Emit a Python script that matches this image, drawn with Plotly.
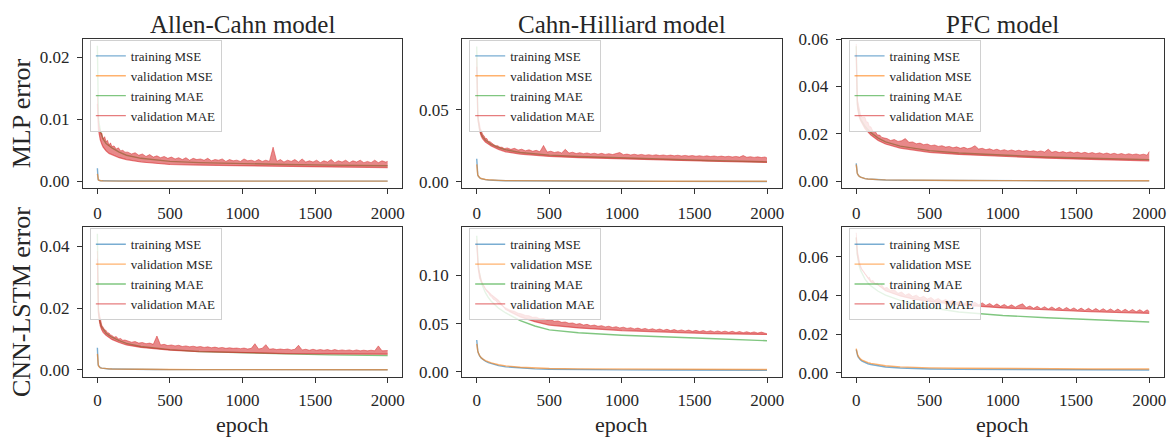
import plotly.graph_objects as go

# ---------------- data ----------------
EPOCHS_SMOOTH = [0, 1, 2, 3, 5, 7, 10, 15, 20, 30, 40, 60, 80, 100, 150, 200,
                 300, 400, 500, 700, 1000, 1300, 1600, 1999]
EPOCHS_NOISY = ([0, 1, 2, 3, 5, 7, 10, 15, 20, 25, 30, 40, 50, 60, 70, 80, 90,
                 100, 115, 130, 145, 160, 175, 190]
                + list(range(210, 1986, 25)) + [1999])

MODELS = ["Allen-Cahn model", "Cahn-Hilliard model", "PFC model"]
ROW_LABELS = ["MLP error", "CNN-LSTM error"]
SERIES_NAMES = ["training MSE", "validation MSE", "training MAE", "validation MAE"]
X_TICKS = [0, 500, 1000, 1500, 2000]

# Validation MAE is noisy: *_VAL_MAE_HIGH is its jagged upper edge (EPOCHS_NOISY),
# *_VAL_MAE_LOW its lower edge (EPOCHS_SMOOTH).

# Allen-Cahn, MLP
AC_MLP_TRAIN_MSE = [0.0021, 0.0009, 0.0006, 0.00045, 0.0003, 0.00022, 0.00016, 0.00011, 0.00008, 0.00006,
                    0.00005, 0.00004, 0.00003, 0.00003, 0.00002, 0.00002, 0.000015, 0.000012, 0.00001, 0.00001,
                    0.00001, 0.00001, 0.00001, 0.00001]
AC_MLP_VAL_MSE = [0.0012, 0.0007, 0.0005, 0.0004, 0.00028, 0.0002, 0.00015, 0.0001, 0.00008, 0.00006,
                  0.00005, 0.00004, 0.00003, 0.00003, 0.00002, 0.00002, 0.000015, 0.000013, 0.000012, 0.000011,
                  0.00001, 0.00001, 0.00001, 0.00001]
AC_MLP_TRAIN_MAE = [0.0219, 0.017, 0.0145, 0.013, 0.0115, 0.0105, 0.0097, 0.0088, 0.0082, 0.0074,
                    0.0068, 0.0061, 0.0057, 0.0054, 0.0047, 0.0042, 0.0037, 0.0034, 0.0032, 0.0030,
                    0.0028, 0.0027, 0.0026, 0.0025]
AC_MLP_VAL_MAE_LOW = [0.0125, 0.011, 0.0102, 0.0096, 0.009, 0.0084, 0.008, 0.0072, 0.0067, 0.006,
                      0.0055, 0.0049, 0.0045, 0.0043, 0.0038, 0.0035, 0.0031, 0.0029, 0.0027, 0.0026,
                      0.0025, 0.0023, 0.0023, 0.0022]
AC_MLP_VAL_MAE_HIGH = [0.0140, 0.0125, 0.0115, 0.0108, 0.0100, 0.0095, 0.0090, 0.0084, 0.0080, 0.0076,
                       0.0078, 0.0068, 0.0072, 0.0064, 0.0066, 0.0058, 0.0062, 0.0056, 0.0057, 0.0052,
                       0.0054, 0.0049, 0.0050, 0.0047,
                       0.0047, 0.0044, 0.0046, 0.0042, 0.0044, 0.0040, 0.0043, 0.0039, 0.0041, 0.0038,
                       0.0040, 0.0037, 0.0039, 0.0036, 0.0038, 0.0035, 0.0038, 0.0034, 0.0037, 0.0035,
                       0.0036, 0.0034, 0.0037, 0.0033, 0.0035, 0.0034, 0.0036, 0.0032, 0.0035, 0.0033,
                       0.0034, 0.0032, 0.0036, 0.0033, 0.0034, 0.0032, 0.0035, 0.0032, 0.0034, 0.0032,
                       0.0055, 0.0032, 0.0035, 0.0031, 0.0034, 0.0032, 0.0035, 0.0031, 0.0036, 0.0031,
                       0.0033, 0.0031, 0.0034, 0.0030, 0.0033, 0.0031, 0.0035, 0.0030, 0.0033, 0.0031,
                       0.0034, 0.0030, 0.0033, 0.0031, 0.0034, 0.0030, 0.0032, 0.0030, 0.0034, 0.0030,
                       0.0033, 0.0031, 0.0032]

# Cahn-Hilliard, MLP
CH_MLP_TRAIN_MSE = [0.016, 0.011, 0.0085, 0.007, 0.0055, 0.0047, 0.004, 0.0032, 0.0027, 0.0021,
                    0.0018, 0.0014, 0.0012, 0.001, 0.0008, 0.0006, 0.0005, 0.0004, 0.00035, 0.0003,
                    0.00025, 0.0002, 0.00018, 0.00015]
CH_MLP_VAL_MSE = [0.012, 0.0095, 0.008, 0.007, 0.0056, 0.0048, 0.0041, 0.0033, 0.0028, 0.0022,
                  0.0019, 0.0015, 0.0013, 0.0011, 0.0009, 0.0007, 0.0006, 0.0005, 0.00045, 0.0004,
                  0.00035, 0.0003, 0.00028, 0.00025]
CH_MLP_TRAIN_MAE = [0.0942, 0.075, 0.065, 0.058, 0.051, 0.047, 0.043, 0.039, 0.0365, 0.0335,
                    0.0315, 0.029, 0.0272, 0.026, 0.0238, 0.0222, 0.0203, 0.0192, 0.0185, 0.0175,
                    0.0165, 0.0155, 0.0147, 0.0138]
CH_MLP_VAL_MAE_LOW = [0.080, 0.065, 0.058, 0.053, 0.048, 0.045, 0.042, 0.038, 0.0355, 0.032,
                      0.030, 0.0275, 0.026, 0.0248, 0.0225, 0.0208, 0.0192, 0.0182, 0.0176, 0.0167,
                      0.0158, 0.0149, 0.0142, 0.0134]
CH_MLP_VAL_MAE_HIGH = [0.086, 0.070, 0.062, 0.057, 0.052, 0.048, 0.045, 0.041, 0.039, 0.037,
                       0.036, 0.033, 0.032, 0.030, 0.030, 0.028, 0.028, 0.027, 0.026, 0.025,
                       0.025, 0.024, 0.024, 0.023,
                       0.0235, 0.0225, 0.0232, 0.0220, 0.0226, 0.0215, 0.0222, 0.0212, 0.0218, 0.0208,
                       0.0252, 0.0206, 0.0212, 0.0203, 0.0209, 0.0200, 0.0225, 0.0199, 0.0205, 0.0196,
                       0.0202, 0.0195, 0.0200, 0.0193, 0.0198, 0.0191, 0.0197, 0.0190, 0.0195, 0.0189,
                       0.0194, 0.0203, 0.0188, 0.0192, 0.0186, 0.0191, 0.0185, 0.0190, 0.0184, 0.0188,
                       0.0183, 0.0187, 0.0182, 0.0186, 0.0181, 0.0185, 0.0180, 0.0184, 0.0179, 0.0183,
                       0.0178, 0.0182, 0.0177, 0.0181, 0.0176, 0.0180, 0.0175, 0.0179, 0.0174, 0.0178,
                       0.0173, 0.0177, 0.0172, 0.0176, 0.0171, 0.0182, 0.0170, 0.0174, 0.0169, 0.0173,
                       0.0168, 0.0172, 0.0165]

# PFC, MLP
PFC_MLP_TRAIN_MSE = [0.0075, 0.0062, 0.0054, 0.0048, 0.004, 0.0035, 0.003, 0.0025, 0.0021, 0.0017,
                     0.0014, 0.0011, 0.0009, 0.0008, 0.0006, 0.0005, 0.0004, 0.00035, 0.0003, 0.00025,
                     0.0002, 0.00018, 0.00015, 0.00013]
PFC_MLP_VAL_MSE = [0.007, 0.006, 0.0053, 0.0047, 0.0039, 0.0034, 0.0029, 0.0024, 0.0021, 0.0017,
                   0.0014, 0.0011, 0.00095, 0.0008, 0.00065, 0.00055, 0.00045, 0.0004, 0.00035, 0.0003,
                   0.00025, 0.00022, 0.0002, 0.00018]
PFC_MLP_TRAIN_MAE = [0.057, 0.048, 0.043, 0.040, 0.036, 0.034, 0.0318, 0.0295, 0.028, 0.0262,
                     0.025, 0.0232, 0.0218, 0.0205, 0.0182, 0.0166, 0.0148, 0.0137, 0.0129, 0.0119,
                     0.0109, 0.0102, 0.0097, 0.0091]
PFC_MLP_VAL_MAE_LOW = [0.054, 0.045, 0.041, 0.038, 0.0345, 0.0325, 0.0305, 0.0285, 0.0272, 0.0255,
                       0.0242, 0.0222, 0.0208, 0.0195, 0.0172, 0.0157, 0.0140, 0.0130, 0.0122, 0.0113,
                       0.0104, 0.0097, 0.0092, 0.0086]
PFC_MLP_VAL_MAE_HIGH = [0.058, 0.049, 0.045, 0.042, 0.038, 0.036, 0.034, 0.032, 0.031, 0.029,
                        0.028, 0.027, 0.027, 0.027, 0.025, 0.025, 0.023, 0.023, 0.021, 0.021,
                        0.0195, 0.0195, 0.0185, 0.0183,
                        0.0180, 0.0172, 0.0176, 0.0168, 0.0171, 0.0180, 0.0164, 0.0166, 0.0158, 0.0161,
                        0.0154, 0.0157, 0.0150, 0.0153, 0.0147, 0.0150, 0.0144, 0.0147, 0.0141, 0.0145,
                        0.0139, 0.0143, 0.0137, 0.0141, 0.0150, 0.0136, 0.0139, 0.0133, 0.0137, 0.0131,
                        0.0135, 0.0129, 0.0133, 0.0128, 0.0132, 0.0127, 0.0131, 0.0126, 0.0130, 0.0125,
                        0.0129, 0.0124, 0.0128, 0.0123, 0.0135, 0.0122, 0.0126, 0.0121, 0.0125, 0.0120,
                        0.0124, 0.0119, 0.0123, 0.0118, 0.0122, 0.0117, 0.0121, 0.0116, 0.0120, 0.0115,
                        0.0119, 0.0114, 0.0118, 0.0113, 0.0117, 0.0112, 0.0116, 0.0112, 0.0115, 0.0111,
                        0.0114, 0.0110, 0.0125]

# Allen-Cahn, CNN-LSTM
AC_CNN_TRAIN_MSE = [0.0072, 0.004, 0.003, 0.0024, 0.0018, 0.0015, 0.0012, 0.0009, 0.00075, 0.0006,
                    0.0005, 0.0004, 0.00033, 0.0003, 0.00024, 0.0002, 0.00016, 0.00014, 0.00012, 0.0001,
                    0.00009, 0.00008, 0.00007, 0.00006]
AC_CNN_VAL_MSE = [0.0052, 0.0035, 0.0027, 0.0022, 0.0017, 0.0014, 0.0011, 0.00085, 0.0007, 0.00058,
                  0.0005, 0.0004, 0.00034, 0.0003, 0.00025, 0.00021, 0.00017, 0.00015, 0.00013, 0.00011,
                  0.0001, 0.00009, 0.00008, 0.00007]
AC_CNN_TRAIN_MAE = [0.0441, 0.032, 0.027, 0.024, 0.021, 0.0193, 0.0178, 0.0162, 0.0152, 0.0139,
                    0.0131, 0.0119, 0.0112, 0.0106, 0.0095, 0.0086, 0.0076, 0.007, 0.0066, 0.006,
                    0.0055, 0.0052, 0.0049, 0.0047]
AC_CNN_VAL_MAE_LOW = [0.036, 0.028, 0.0245, 0.0225, 0.0198, 0.0183, 0.0170, 0.0155, 0.0143, 0.0130,
                      0.0122, 0.0112, 0.0104, 0.0099, 0.0089, 0.0081, 0.0073, 0.0068, 0.0064, 0.0059,
                      0.0055, 0.0053, 0.0052, 0.0051]
AC_CNN_VAL_MAE_HIGH = [0.0385, 0.031, 0.027, 0.025, 0.022, 0.0205, 0.019, 0.0175, 0.0160, 0.0155,
                       0.0145, 0.0138, 0.0130, 0.0128, 0.0120, 0.0120, 0.0113, 0.0112, 0.0106, 0.0108,
                       0.0100, 0.0102, 0.0096, 0.0097,
                       0.0095, 0.0090, 0.0092, 0.0087, 0.0089, 0.0085, 0.0087, 0.0083, 0.0110, 0.0081,
                       0.0083, 0.0079, 0.0081, 0.0078, 0.0080, 0.0076, 0.0078, 0.0075, 0.0077, 0.0074,
                       0.0076, 0.0073, 0.0075, 0.0072, 0.0074, 0.0071, 0.0073, 0.0070, 0.0072, 0.0070,
                       0.0071, 0.0069, 0.0071, 0.0068, 0.0070, 0.0085, 0.0068, 0.0070, 0.0082, 0.0067,
                       0.0069, 0.0066, 0.0068, 0.0066, 0.0068, 0.0065, 0.0067, 0.0080, 0.0065, 0.0067,
                       0.0064, 0.0067, 0.0064, 0.0066, 0.0064, 0.0066, 0.0063, 0.0066, 0.0063, 0.0065,
                       0.0063, 0.0065, 0.0062, 0.0065, 0.0062, 0.0064, 0.0062, 0.0064, 0.0062, 0.0078,
                       0.0062, 0.0064, 0.0063]

# Cahn-Hilliard, CNN-LSTM
CH_CNN_TRAIN_MSE = [0.033, 0.029, 0.027, 0.0255, 0.0235, 0.022, 0.020, 0.018, 0.0165, 0.0145,
                    0.013, 0.011, 0.0095, 0.0085, 0.0065, 0.0052, 0.0038, 0.0031, 0.0027, 0.0023,
                    0.0021, 0.0019, 0.0018, 0.0017]
CH_CNN_VAL_MSE = [0.029, 0.027, 0.0255, 0.0245, 0.023, 0.0218, 0.020, 0.0182, 0.0168, 0.015,
                  0.0135, 0.0117, 0.0103, 0.0093, 0.0074, 0.0062, 0.0048, 0.0040, 0.0035, 0.0031,
                  0.0029, 0.0027, 0.0026, 0.0025]
CH_CNN_TRAIN_MAE = [0.141, 0.135, 0.13, 0.126, 0.12, 0.116, 0.111, 0.105, 0.1, 0.094,
                    0.089, 0.082, 0.077, 0.073, 0.066, 0.061, 0.053, 0.0475, 0.0435, 0.0405,
                    0.038, 0.036, 0.0345, 0.0323]
CH_CNN_VAL_MAE_LOW = [0.133, 0.128, 0.124, 0.120, 0.115, 0.111, 0.107, 0.102, 0.097, 0.094,
                      0.091, 0.086, 0.083, 0.080, 0.074, 0.0645, 0.057, 0.052, 0.0485, 0.0455,
                      0.0428, 0.0410, 0.0397, 0.0387]
CH_CNN_VAL_MAE_HIGH = [0.137, 0.132, 0.128, 0.124, 0.119, 0.115, 0.111, 0.106, 0.101, 0.098,
                       0.096, 0.091, 0.088, 0.086, 0.083, 0.082, 0.079, 0.078, 0.075, 0.074,
                       0.071, 0.070, 0.068, 0.067,
                       0.0655, 0.0635, 0.0628, 0.0608, 0.0600, 0.0585, 0.0582, 0.0565, 0.0567, 0.0550,
                       0.0553, 0.0536, 0.0540, 0.0524, 0.0528, 0.0513, 0.0517, 0.0503, 0.0507, 0.0493,
                       0.0500, 0.0485, 0.0492, 0.0478, 0.0485, 0.0472, 0.0479, 0.0466, 0.0473, 0.0460,
                       0.0468, 0.0455, 0.0463, 0.0450, 0.0458, 0.0445, 0.0454, 0.0441, 0.0450, 0.0437,
                       0.0447, 0.0434, 0.0444, 0.0431, 0.0441, 0.0428, 0.0438, 0.0425, 0.0435, 0.0423,
                       0.0433, 0.0420, 0.0430, 0.0418, 0.0428, 0.0416, 0.0426, 0.0414, 0.0424, 0.0412,
                       0.0422, 0.0410, 0.0420, 0.0408, 0.0418, 0.0406, 0.0416, 0.0404, 0.0414, 0.0402,
                       0.0412, 0.0400, 0.0395]

# PFC, CNN-LSTM
PFC_CNN_TRAIN_MSE = [0.012, 0.0115, 0.011, 0.0106, 0.0099, 0.0094, 0.0088, 0.008, 0.0074, 0.0066,
                     0.006, 0.0052, 0.0047, 0.0043, 0.0035, 0.003, 0.0025, 0.0022, 0.002, 0.0018,
                     0.0017, 0.0016, 0.0015, 0.0015]
PFC_CNN_VAL_MSE = [0.0125, 0.012, 0.0115, 0.011, 0.0103, 0.0098, 0.0092, 0.0085, 0.0079, 0.0071,
                   0.0066, 0.0058, 0.0053, 0.0049, 0.0042, 0.0037, 0.0031, 0.0028, 0.0026, 0.0024,
                   0.0022, 0.0021, 0.002, 0.002]
PFC_CNN_TRAIN_MAE = [0.070, 0.068, 0.0665, 0.065, 0.063, 0.0615, 0.060, 0.0575, 0.0555, 0.053,
                     0.0512, 0.0485, 0.0465, 0.045, 0.0422, 0.0402, 0.0375, 0.0355, 0.0338, 0.0315,
                     0.0297, 0.0285, 0.0275, 0.0263]
PFC_CNN_VAL_MAE_LOW = [0.070, 0.068, 0.0665, 0.065, 0.063, 0.0615, 0.060, 0.058, 0.0565, 0.0545,
                       0.0535, 0.051, 0.049, 0.047, 0.0455, 0.0425, 0.0398, 0.0380, 0.0370, 0.0352,
                       0.0336, 0.0325, 0.0316, 0.0308]
PFC_CNN_VAL_MAE_HIGH = [0.0725, 0.0705, 0.069, 0.0675, 0.0655, 0.064, 0.0625, 0.060, 0.0585, 0.0565,
                        0.0555, 0.053, 0.0525, 0.051, 0.0505, 0.049, 0.0495, 0.0475, 0.0478, 0.046,
                        0.0465, 0.0448, 0.0455, 0.0438,
                        0.0442, 0.0425, 0.0430, 0.0412, 0.0418, 0.0402, 0.0410, 0.0395, 0.0402, 0.0388,
                        0.0396, 0.0382, 0.0390, 0.0376, 0.0385, 0.0371, 0.0380, 0.0367, 0.0376, 0.0363,
                        0.0372, 0.0359, 0.0368, 0.0356, 0.0365, 0.0352, 0.0362, 0.0349, 0.0359, 0.0346,
                        0.0357, 0.0344, 0.0354, 0.0342, 0.0352, 0.0340, 0.0350, 0.0357, 0.0338, 0.0346,
                        0.0334, 0.0344, 0.0332, 0.0342, 0.0330, 0.0341, 0.0329, 0.0339, 0.0327, 0.0338,
                        0.0326, 0.0336, 0.0324, 0.0335, 0.0323, 0.0334, 0.0322, 0.0333, 0.0321, 0.0332,
                        0.0320, 0.0331, 0.0319, 0.0330, 0.0318, 0.0329, 0.0317, 0.0328, 0.0316, 0.0327,
                        0.0315, 0.0326, 0.0318]

# panel order: row-major (MLP row then CNN-LSTM row)
PANEL_SERIES = [
    (AC_MLP_TRAIN_MSE, AC_MLP_VAL_MSE, AC_MLP_TRAIN_MAE, AC_MLP_VAL_MAE_LOW, AC_MLP_VAL_MAE_HIGH),
    (CH_MLP_TRAIN_MSE, CH_MLP_VAL_MSE, CH_MLP_TRAIN_MAE, CH_MLP_VAL_MAE_LOW, CH_MLP_VAL_MAE_HIGH),
    (PFC_MLP_TRAIN_MSE, PFC_MLP_VAL_MSE, PFC_MLP_TRAIN_MAE, PFC_MLP_VAL_MAE_LOW, PFC_MLP_VAL_MAE_HIGH),
    (AC_CNN_TRAIN_MSE, AC_CNN_VAL_MSE, AC_CNN_TRAIN_MAE, AC_CNN_VAL_MAE_LOW, AC_CNN_VAL_MAE_HIGH),
    (CH_CNN_TRAIN_MSE, CH_CNN_VAL_MSE, CH_CNN_TRAIN_MAE, CH_CNN_VAL_MAE_LOW, CH_CNN_VAL_MAE_HIGH),
    (PFC_CNN_TRAIN_MSE, PFC_CNN_VAL_MSE, PFC_CNN_TRAIN_MAE, PFC_CNN_VAL_MAE_LOW, PFC_CNN_VAL_MAE_HIGH),
]
Y_TICKS = [
    [0.0, 0.01, 0.02],
    [0.0, 0.05],
    [0.0, 0.02, 0.04, 0.06],
    [0.0, 0.02, 0.04],
    [0.0, 0.05, 0.10],
    [0.0, 0.02, 0.04, 0.06],
]

# ---------------- style / layout ----------------
W, H = 1173, 440
COLORS = ["rgba(31,119,180,0.6)", "rgba(255,127,14,0.6)",
          "rgba(44,160,44,0.6)", "rgba(214,39,40,0.6)"]
BAND_FILL = "rgba(214,39,40,0.55)"
FONT = "Liberation Serif, DejaVu Serif, serif"
TXT = "#262626"
Y_RANGES = [
    [-0.00105, 0.0230],
    [-0.0042, 0.0994],
    [-0.00275, 0.0601],
    [-0.00228, 0.0462],
    [-0.0053, 0.1497],
    [-0.00215, 0.0753],
]
COL_PX = [(83, 403), (463, 783), (843, 1166)]
ROW_PX = [(31, 185), (226, 381)]
X_STANDOFF = [5, 3]

fig = go.Figure()
layout = dict(width=W, height=H, margin=dict(l=0, r=0, t=0, b=0),
              paper_bgcolor="white", plot_bgcolor="white",
              font=dict(family=FONT, color=TXT), showlegend=True)
annotations = []

for i, (tr_mse, va_mse, tr_mae, va_lo, va_hi) in enumerate(PANEL_SERIES):
    r, c = divmod(i, 3)
    sfx = "" if i == 0 else str(i + 1)
    lg = "legend" if i == 0 else f"legend{i + 1}"
    x0, x1 = COL_PX[c]
    y0, y1 = ROW_PX[r]
    ax = dict(xaxis="x" + sfx, yaxis="y" + sfx, legend=lg, hoverinfo="skip")
    for k, ys in enumerate([tr_mse, va_mse, tr_mae, va_lo]):
        fig.add_trace(go.Scatter(
            x=EPOCHS_SMOOTH, y=ys, mode="lines", name=SERIES_NAMES[k],
            line=dict(color=COLORS[k], width=1.4 if k < 3 else 1.2), **ax))
    # jagged upper edge of the noisy validation MAE, filled down to its lower edge
    fig.add_trace(go.Scatter(
        x=EPOCHS_NOISY, y=va_hi, mode="lines", name=SERIES_NAMES[3], showlegend=False,
        line=dict(color=COLORS[3], width=0.8), fill="tonexty", fillcolor=BAND_FILL, **ax))

    axis_common = dict(showline=True, linecolor="#333", linewidth=1, mirror=True,
                       ticks="outside", ticklen=5, tickcolor="#333", tickwidth=1,
                       showgrid=False, zeroline=False,
                       tickfont=dict(family=FONT, size=17, color=TXT))
    layout["xaxis" + sfx] = dict(axis_common, domain=[x0 / W, x1 / W],
                                 range=[-100, 2100], tickvals=X_TICKS,
                                 ticklabelstandoff=X_STANDOFF[r], anchor="y" + sfx)
    layout["yaxis" + sfx] = dict(axis_common, domain=[1 - y1 / H, 1 - y0 / H],
                                 range=Y_RANGES[i], tickvals=Y_TICKS[i],
                                 ticklabelstandoff=4, tickformat=".2f", anchor="x" + sfx)
    layout[lg] = dict(x=(x0 + 7) / W, y=1 - (y0 + 1) / H, xanchor="left", yanchor="top",
                      bgcolor="rgba(255,255,255,0.8)", bordercolor="#d0d0d0", borderwidth=1,
                      font=dict(family=FONT, size=13, color=TXT), traceorder="normal",
                      tracegroupgap=0, itemwidth=30)

for c, title in enumerate(MODELS):
    x0, x1 = COL_PX[c]
    annotations.append(dict(text=title, x=(x0 + x1) / 2 / W, y=1 - 16 / H,
                            xref="paper", yref="paper", showarrow=False,
                            xanchor="center", yanchor="middle",
                            font=dict(family=FONT, size=25, color=TXT)))
    annotations.append(dict(text="epoch", x=(x0 + x1) / 2 / W, y=1 - 430 / H,
                            xref="paper", yref="paper", showarrow=False,
                            xanchor="center", yanchor="middle",
                            font=dict(family=FONT, size=22, color=TXT)))
for r, lab in enumerate(ROW_LABELS):
    y0, y1 = ROW_PX[r]
    annotations.append(dict(text=lab, x=21 / W, y=1 - (y0 + y1) / 2 / H,
                            xref="paper", yref="paper", showarrow=False,
                            textangle=-90, xanchor="center", yanchor="middle",
                            font=dict(family=FONT, size=26, color=TXT)))

layout["annotations"] = annotations
fig.update_layout(**layout)
fig.write_html("out.html", config={"displayModeBar": False},
               post_script="document.body.style.margin='0px';")
